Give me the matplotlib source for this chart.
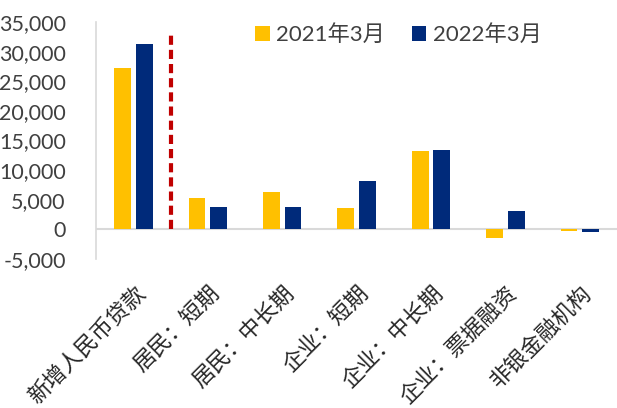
import matplotlib
matplotlib.use("Agg")
import matplotlib.pyplot as plt
import numpy as np

categories = ["新增人民币贷款", "居民：短期", "居民：中长期", "企业：短期", "企业：中长期", "企业：票据融资", "非银金融机构"]
series_2021 = [27300, 5237, 6269, 3702, 13256, -1484, -220]
series_2022 = [31300, 3848, 3754, 8102, 13428, 3165, -407]
series_names = ["2021年3月", "2022年3月"]
yticks = [-5000, 0, 5000, 10000, 15000, 20000, 25000, 30000, 35000]

fam = ['Lato', 'Noto Sans CJK SC', 'DejaVu Sans']
plt.rcParams['font.family'] = fam

fig = plt.figure(figsize=(6.17, 4.08), dpi=100)
ax = fig.add_axes([0.156, 0.365, 0.844, 0.581])

x = np.arange(len(categories))
w = 0.225
off = 0.145
ax.bar(x - off, series_2021, w, color='#FFC000', label=series_names[0], zorder=3)
ax.bar(x + off, series_2022, w, color='#002A7A', label=series_names[1], zorder=3)

ax.axhline(0, color='#D9D9D9', lw=1.5, zorder=2)
ax.plot([0.5, 0.5], [0, 33500], color='#C00000', lw=3, ls=(0, (2.2, 1.2)), zorder=4)

ax.set_xlim(-0.5, 6.5)
ax.set_ylim(-5000, 35000)
ax.set_yticks(yticks)
ax.set_yticklabels([f"{v:,}" for v in yticks], fontsize=15.5, color='#404040')
ax.set_xticks(x)
ax.set_xticklabels(categories, rotation=45, ha='right', va='top', rotation_mode='anchor',
                   fontsize=16, color='#262626', family=['Noto Sans CJK SC', 'DejaVu Sans'])
ax.tick_params(axis='both', length=0)
ax.tick_params(axis='x', pad=16)
ax.tick_params(axis='y', pad=22)

for s in ['top', 'right', 'bottom']:
    ax.spines[s].set_visible(False)
ax.spines['left'].set_color('#D9D9D9')
ax.spines['left'].set_linewidth(1.2)

leg = ax.legend(loc='upper left', bbox_to_anchor=(0.267, 1.075), ncol=2, frameon=False,
                fontsize=16, handlelength=0.65, handleheight=0.65, handletextpad=0.3,
                columnspacing=1.2, labelcolor='#404040')

fig.savefig("out.png", dpi=100)
